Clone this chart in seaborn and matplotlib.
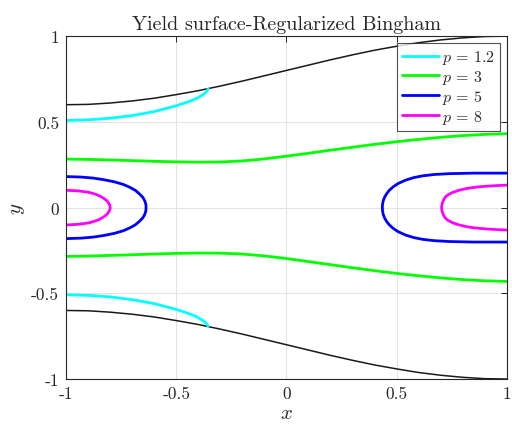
import matplotlib
matplotlib.use("Agg")
import matplotlib.pyplot as plt
import seaborn as sns
import pandas as pd
from matplotlib.lines import Line2D

# Channel walls
wall_x = [-1.0, -0.9, -0.8, -0.7, -0.6, -0.5, -0.4, -0.3, -0.2, -0.1, 0.0,
          0.1, 0.2, 0.3, 0.4, 0.5, 0.6, 0.7, 0.8, 0.9, 1.0]
wall_upper = [0.600, 0.602, 0.610, 0.622, 0.638, 0.659, 0.682, 0.709, 0.738, 0.769, 0.800,
              0.831, 0.862, 0.891, 0.918, 0.941, 0.962, 0.978, 0.990, 0.998, 1.000]
wall_lower = [-0.600, -0.602, -0.610, -0.622, -0.638, -0.659, -0.682, -0.709, -0.738, -0.769, -0.800,
              -0.831, -0.862, -0.891, -0.918, -0.941, -0.962, -0.978, -0.990, -0.998, -1.000]

# p = 1.2 yield surfaces (meet the walls)
p12_x = [-1.0, -0.9, -0.8, -0.7, -0.6, -0.5, -0.45, -0.42, -0.40, -0.38, -0.365, -0.355]
p12_upper = [0.508, 0.512, 0.521, 0.537, 0.560, 0.594, 0.615, 0.630, 0.642, 0.658, 0.673, 0.692]
p12_lower = [-0.508, -0.512, -0.521, -0.537, -0.560, -0.594, -0.615, -0.630, -0.642, -0.658, -0.673, -0.692]

# p = 3 yield surfaces
p3_x = wall_x
p3_upper = [0.283, 0.281, 0.278, 0.274, 0.270, 0.267, 0.265, 0.266, 0.272, 0.284, 0.300,
            0.317, 0.335, 0.352, 0.369, 0.384, 0.398, 0.410, 0.420, 0.427, 0.431]
p3_lower = [-0.285, -0.283, -0.279, -0.275, -0.271, -0.267, -0.265, -0.266, -0.271, -0.282, -0.297,
            -0.315, -0.333, -0.351, -0.368, -0.384, -0.398, -0.410, -0.420, -0.427, -0.431]

# p = 5 plug regions (left and right), traced top to bottom
p5_left_x = [-1.0, -0.93, -0.876, -0.83, -0.78, -0.74, -0.71, -0.685, -0.667, -0.652,
             -0.643, -0.638, -0.637,
             -0.638, -0.643, -0.652, -0.667, -0.685, -0.71, -0.74, -0.78, -0.83,
             -0.876, -0.93, -1.0]
p5_left_y = [0.181, 0.178, 0.172, 0.163, 0.150, 0.135, 0.118, 0.100, 0.080, 0.060,
             0.040, 0.020, 0.0,
             -0.020, -0.040, -0.060, -0.080, -0.100, -0.118, -0.135, -0.150, -0.163,
             -0.172, -0.178, -0.181]
p5_right_x = [1.0, 0.85, 0.74, 0.67, 0.617, 0.578, 0.540, 0.506, 0.483, 0.466, 0.454,
              0.445, 0.439, 0.436, 0.435,
              0.436, 0.439, 0.445, 0.454, 0.466, 0.483, 0.506, 0.540, 0.578, 0.617,
              0.67, 0.74, 0.85, 1.0]
p5_right_y = [0.201, 0.201, 0.198, 0.193, 0.185, 0.175, 0.160, 0.140, 0.120, 0.100, 0.080,
              0.060, 0.040, 0.020, 0.0,
              -0.020, -0.040, -0.060, -0.080, -0.100, -0.120, -0.140, -0.160, -0.175, -0.185,
              -0.193, -0.198, -0.201, -0.201]

# p = 8 plug regions (left and right), traced top to bottom
p8_left_x = [-1.0, -0.95, -0.9, -0.876, -0.85, -0.83, -0.815, -0.806, -0.801, -0.80,
             -0.801, -0.806, -0.815, -0.83, -0.85, -0.876, -0.9, -0.95, -1.0]
p8_left_y = [0.101, 0.098, 0.090, 0.082, 0.070, 0.055, 0.040, 0.025, 0.012, 0.0,
             -0.012, -0.025, -0.040, -0.055, -0.070, -0.082, -0.090, -0.098, -0.101]
p8_right_x = [1.0, 0.95, 0.9, 0.85, 0.812, 0.78, 0.755, 0.733, 0.720, 0.713, 0.708, 0.705, 0.704,
              0.705, 0.708, 0.713, 0.720, 0.733, 0.755, 0.78, 0.812, 0.85, 0.9, 0.95, 1.0]
p8_right_y = [0.131, 0.128, 0.124, 0.118, 0.110, 0.100, 0.089, 0.075, 0.060, 0.045, 0.030, 0.015, 0.0,
              -0.015, -0.030, -0.045, -0.060, -0.075, -0.089, -0.100, -0.110, -0.118, -0.124,
              -0.128, -0.131]

legend_labels = [r"$p\,=\,1.2$", r"$p\,=\,3$", r"$p\,=\,5$", r"$p\,=\,8$"]
colors = ["#00ffff", "#00ff00", "#0000ff", "#ff00ff"]
ticks = [-1.0, -0.5, 0.0, 0.5, 1.0]
tick_labels = ["-1", "-0.5", "0", "0.5", "1"]

sns.set_style("white")
plt.rcParams["font.family"] = ["cmr10", "DejaVu Serif"]
plt.rcParams["mathtext.fontset"] = "cm"
plt.rcParams["axes.unicode_minus"] = False

fig = plt.figure(figsize=(5.12, 4.27), dpi=100)
ax = fig.add_axes([0.129, 0.110, 0.861, 0.803])


def curve(xs, ys, color, lw):
    df = pd.DataFrame({"x": xs, "y": ys})
    sns.lineplot(data=df, x="x", y="y", sort=False, estimator=None, color=color,
                 linewidth=lw, ax=ax, legend=False)


curve(wall_x, wall_upper, "#1a1a1a", 1.1)
curve(wall_x, wall_lower, "#1a1a1a", 1.1)
curve(p12_x, p12_upper, colors[0], 2.0)
curve(p12_x, p12_lower, colors[0], 2.0)
curve(p3_x, p3_upper, colors[1], 2.0)
curve(p3_x, p3_lower, colors[1], 2.0)
curve(p5_left_x, p5_left_y, colors[2], 2.0)
curve(p5_right_x, p5_right_y, colors[2], 2.0)
curve(p8_left_x, p8_left_y, colors[3], 2.0)
curve(p8_right_x, p8_right_y, colors[3], 2.0)

ax.set_xlim(-1, 1)
ax.set_ylim(-1, 1)
ax.set_xticks(ticks)
ax.set_yticks(ticks)
ax.set_xticklabels(tick_labels)
ax.set_yticklabels(tick_labels)
ax.tick_params(direction="in", length=4, width=0.7, color="#262626",
               labelsize=12.5, top=True, right=True, pad=5)
ax.grid(True, color="#e3e3e3", linewidth=0.8)
ax.set_axisbelow(True)
for s in ax.spines.values():
    s.set_color("#262626")
    s.set_linewidth(0.8)

ax.set_xlabel("$x$", fontsize=15, labelpad=2)
ax.set_ylabel("$y$", fontsize=15, labelpad=3)
ax.set_title("Yield surface-Regularized Bingham", fontsize=14.5, pad=5)

handles = [Line2D([0], [0], color=c, linewidth=2.0) for c in colors]
leg = ax.legend(handles, legend_labels, loc="upper right", fontsize=11.5,
                frameon=True, fancybox=False, edgecolor="#262626",
                handlelength=2.3, handletextpad=0.2, borderpad=0.3,
                labelspacing=0.12, borderaxespad=0.45)
leg.get_frame().set_linewidth(0.8)

fig.savefig("out.png", dpi=100)
